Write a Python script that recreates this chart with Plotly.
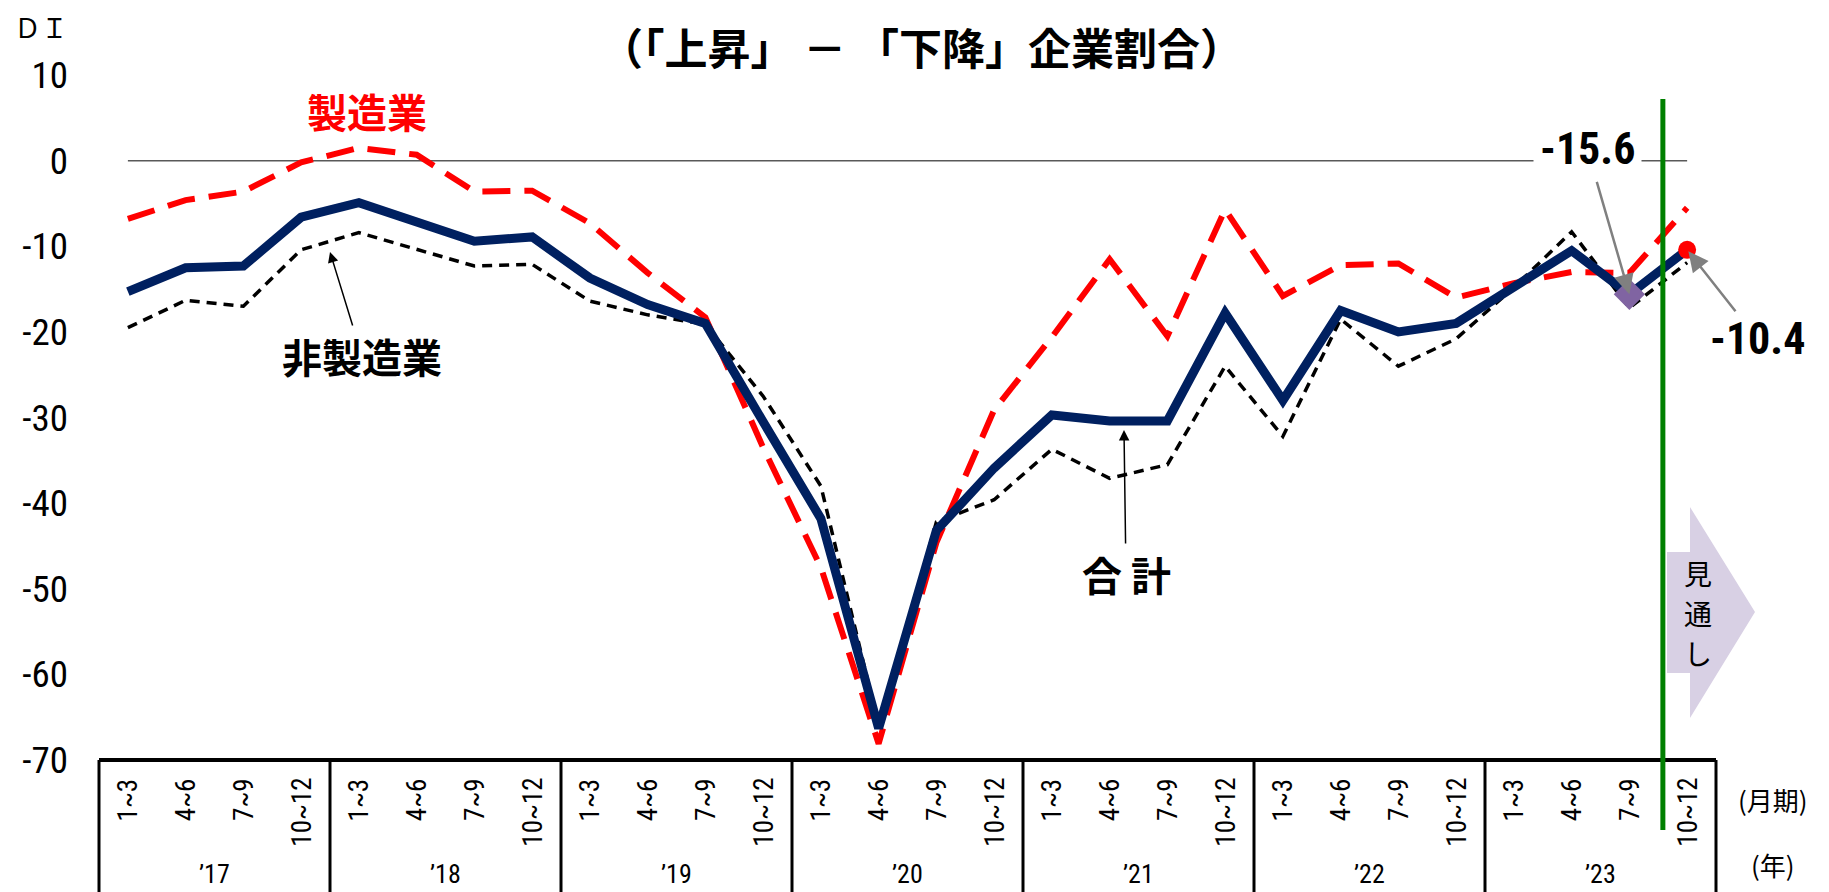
import plotly.graph_objects as go

# ---------------- data ----------------
quarters = ["1~3", "4~6", "7~9", "10~12"]
years = ["’17", "’18", "’19", "’20", "’21", "’22", "’23"]

total = [-15.3, -12.5, -12.3, -6.6, -4.9, -7.1, -9.4, -8.9,
         -13.7, -16.8, -19.0, -30.5, -41.8, -66.3, -43.2, -35.9,
         -29.7, -30.4, -30.4, -17.8, -28.0, -17.5, -20.0, -19.0,
         -14.6, -10.5, -15.6, -10.4]
manufacturing = [-6.8, -4.6, -3.6, -0.2, 1.5, 0.7, -3.6, -3.5,
                 -7.3, -13.1, -18.3, -33.5, -47.5, -68.1, -44.6, -29.1,
                 -20.6, -11.5, -20.5, -5.7, -15.8, -12.2, -12.0, -16.0,
                 -14.3, -13.0, -13.1, -5.5]
non_manufacturing = [-19.5, -16.3, -17.0, -10.4, -8.4, -10.4, -12.3, -12.1,
                     -16.4, -18.0, -19.1, -27.5, -38.0, -66.0, -42.2, -39.6,
                     -33.7, -37.1, -35.5, -24.0, -32.2, -18.5, -24.0, -20.8,
                     -14.8, -8.3, -17.2, -11.9]
ytick_vals = [10, 0, -10, -20, -30, -40, -50, -60, -70]
ytick_text = ["10", "0", "-10", "-20", "-30", "-40", "-50", "-60", "-70"]
forecast_chars = ["見", "通", "し"]
forecast_boundary = 26.58  # between 7~9 '23 and 10~12 '23

n = len(total)
x = list(range(n))

# ---------------- layout constants ----------------
W, H = 1829, 892
ML, MR, MT, MB = 99, 113, 58, 132
PW, PH = W - ML - MR, H - MT - MB
YMIN, YMAX = -70, 12

NARROW = "Liberation Sans Narrow, Arial Narrow, Roboto Condensed, Noto Sans, sans-serif"
JP = "Noto Sans CJK JP, sans-serif"


def px(xp):
    return (xp - ML) / PW


def py(yp):
    return (H - MB - yp) / PH


def xdata_to_paper(v):
    return (v + 0.5) / n


fig = go.Figure()

fig.add_trace(go.Scatter(x=x, y=manufacturing, mode="lines",
                         line=dict(color="#FF0000", width=6, dash="28px,14px"),
                         hoverinfo="skip", showlegend=False))
fig.add_trace(go.Scatter(x=x, y=non_manufacturing, mode="lines",
                         line=dict(color="#000000", width=3.5, dash="10px,7px"),
                         hoverinfo="skip", showlegend=False))
fig.add_trace(go.Scatter(x=x, y=total, mode="lines",
                         line=dict(color="#002060", width=9),
                         hoverinfo="skip", showlegend=False))
fig.add_trace(go.Scatter(x=[x[-2]], y=[total[-2]], mode="markers",
                         marker=dict(symbol="diamond", size=24, color="#8064A2"),
                         hoverinfo="skip", showlegend=False))
fig.add_trace(go.Scatter(x=[x[-1]], y=[total[-1]], mode="markers",
                         marker=dict(symbol="circle", size=18, color="#FF0000"),
                         hoverinfo="skip", showlegend=False))

shapes = []
# zero line
shapes.append(dict(type="line", xref="x", yref="y", x0=0, x1=n - 1, y0=0, y1=0,
                   line=dict(color="#595959", width=1.5), layer="below"))
# x-axis table box
shapes.append(dict(type="line", xref="paper", yref="paper", x0=0, x1=1, y0=0, y1=0,
                   line=dict(color="#000000", width=4)))
for k in range(len(years) + 1):
    xp = k * 4 / n
    shapes.append(dict(type="line", xref="paper", yref="paper", x0=xp, x1=xp,
                       y0=0, y1=-0.2, line=dict(color="#000000", width=3)))
# forecast arrow shape
pts = [(1667, 552), (1690, 552), (1690, 507), (1755, 612), (1690, 718), (1690, 673), (1667, 673)]
path = "M " + " L ".join(f"{px(a):.5f},{py(b):.5f}" for a, b in pts) + " Z"
shapes.append(dict(type="path", xref="paper", yref="paper", path=path,
                   fillcolor="#D8D0E4", line=dict(width=0)))
# green forecast line
gx = xdata_to_paper(forecast_boundary)
shapes.append(dict(type="line", xref="paper", yref="paper", x0=gx, x1=gx,
                   y0=py(830), y1=py(99), line=dict(color="#008000", width=5)))


def label(xp, yp, text, size, color="#000000", family=JP, **kw):
    d = dict(xref="paper", yref="paper", x=px(xp), y=py(yp), text=text,
             showarrow=False, xanchor="center", yanchor="middle",
             font=dict(family=family, size=size, color=color))
    d.update(kw)
    return d


annotations = []
# quarter labels
for i in range(n):
    annotations.append(dict(xref="x", yref="paper", x=i, y=py(776),
                            text=quarters[i % 4], showarrow=False, textangle=-90,
                            yanchor="top", xanchor="center",
                            font=dict(family=NARROW, size=27, color="#000000")))
# year labels
for k, yl in enumerate(years):
    annotations.append(dict(xref="x", yref="paper", x=4 * k + 1.5, y=py(874),
                            text=yl, showarrow=False, yanchor="middle", xanchor="center",
                            font=dict(family=NARROW, size=26, color="#000000")))
# forecast vertical text
for j, ch in enumerate(forecast_chars):
    annotations.append(label(1698, 573 + 40 * j, ch, 28, borderpad=0))

annotations += [
    label(1773, 799, "(月期)", 26),
    label(1773, 864, "(年)", 26),
    label(921, 46, "<b>（「上昇」 － 「下降」企業割合）</b>", 43),
    label(41, 26, "ＤＩ", 27),
    label(367, 111, "<b>製造業</b>", 40, color="#FF0000"),
    # 非製造業 with arrow
    dict(xref="paper", yref="paper", x=px(330), y=py(252), ax=32, ay=104,
         axref="pixel", ayref="pixel", text="<b>非製造業</b>", showarrow=True,
         arrowhead=2, arrowsize=1.4, arrowwidth=1.5, arrowcolor="#000000",
         font=dict(family=JP, size=40, color="#000000")),
    # 合計 with arrow
    dict(xref="paper", yref="paper", x=px(1124), y=py(430), ax=2, ay=144,
         axref="pixel", ayref="pixel", text="<b>合 計</b>", showarrow=True,
         arrowhead=2, arrowsize=1.4, arrowwidth=1.5, arrowcolor="#000000",
         font=dict(family=JP, size=40, color="#000000")),
    # value callouts
    dict(xref="x", yref="y", x=x[-2], y=total[-2], ax=-42, ay=-145,
         axref="pixel", ayref="pixel", text=f"<b>{total[-2]}</b>", showarrow=True,
         arrowhead=2, arrowsize=1.6, arrowwidth=2.5, arrowcolor="#808080",
         bgcolor="#FFFFFF", borderpad=6,
         font=dict(family=NARROW, size=44, color="#000000")),
    dict(xref="x", yref="y", x=x[-1], y=total[-1], ax=70, ay=89,
         axref="pixel", ayref="pixel", text=f"<b>{total[-1]}</b>", showarrow=True,
         arrowhead=2, arrowsize=1.6, arrowwidth=2.5, arrowcolor="#808080",
         standoff=2, font=dict(family=NARROW, size=44, color="#000000")),
]

fig.update_layout(
    width=W, height=H,
    margin=dict(l=ML, r=MR, t=MT, b=MB),
    paper_bgcolor="#FFFFFF", plot_bgcolor="#FFFFFF",
    showlegend=False,
    xaxis=dict(range=[-0.5, n - 0.5], showgrid=False, zeroline=False,
               showticklabels=False, showline=False, ticks=""),
    yaxis=dict(range=[YMIN, YMAX], showgrid=False, zeroline=False, showline=False,
               tickvals=ytick_vals, ticktext=ytick_text, ticks="",
               ticklabelstandoff=30,
               tickfont=dict(family=NARROW, size=37, color="#000000")),
    shapes=shapes,
    annotations=annotations,
)

fig.write_html("out.html")
